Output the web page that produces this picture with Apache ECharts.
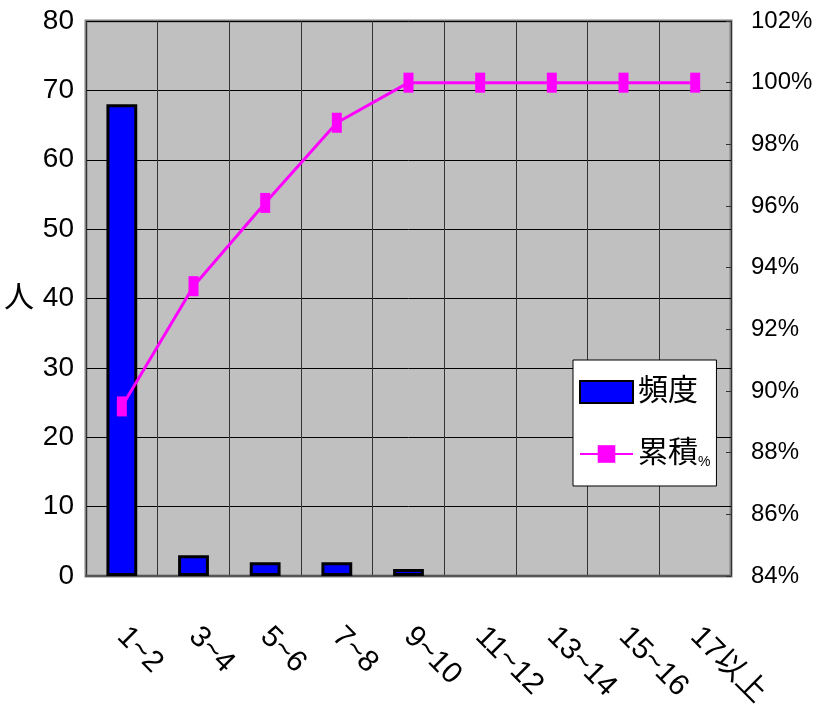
<!DOCTYPE html>
<html>
<head>
    <meta charset="UTF-8">
    <title>頻度 / 累積%</title>
    <script src="https://cdn.jsdelivr.net/npm/echarts@6/dist/echarts.min.js"></script>
    <style>
        html, body { margin: 0; padding: 0; background: #fff; }
        #chart { width: 815px; height: 721px; }
    </style>
</head>
<body>
<div id="chart"></div>
<script>
    // data
    var categories = ['1~2', '3~4', '5~6', '7~8', '9~10', '11~12', '13~14', '15~16', '17以上'];
    var freq = [68, 3, 2, 2, 1, 0, 0, 0, 0];
    var cumPct = [89.5, 93.4, 96.1, 98.7, 100, 100, 100, 100, 100];

    var font = "'Liberation Sans', Arial, 'Noto Sans CJK JP', sans-serif";

    var myChart = echarts.init(document.getElementById('chart'));
    myChart.setOption({
        animation: false,
        textStyle: { fontFamily: font },
        grid: {
            left: 86,
            right: 84,
            top: 21,
            bottom: 145,
            outerBoundsMode: 'none',
            containLabel: false,
            show: true,
            backgroundColor: '#c0c0c0',
            borderColor: '#808080',
            borderWidth: 3
        },
        legend: {
            orient: 'vertical',
            left: 573,
            top: 360,
            backgroundColor: '#fff',
            borderColor: '#000',
            borderWidth: 1,
            borderRadius: 0,
            padding: [17, 6, 17, 6],
            itemWidth: 53,
            itemHeight: 22,
            itemGap: 32,
            textStyle: {
                fontSize: 30,
                color: '#000',
                fontFamily: font,
                rich: { p: { fontSize: 14, color: '#000', fontFamily: font, verticalAlign: 'bottom' } }
            },
            // the % is squeezed small in the original legend
            formatter: function (name) {
                return name === '累積%' ? '累積{p|%}' : name;
            },
            data: [{ name: '頻度', icon: 'rect' }, '累積%']
        },
        xAxis: {
            type: 'category',
            data: categories,
            boundaryGap: true,
            axisLine: { lineStyle: { color: '#555', width: 2 } },
            axisTick: { show: false },
            splitLine: { show: true, lineStyle: { color: '#333', width: 1 } },
            axisLabel: {
                rotate: -45,
                margin: 56,
                interval: 0,
                fontSize: 30,
                color: '#000',
                fontFamily: font
            }
        },
        yAxis: [
            {
                type: 'value',
                name: '人',
                nameLocation: 'middle',
                nameRotate: 0,
                nameGap: 52,
                nameTextStyle: { fontSize: 30, color: '#000', fontFamily: font },
                min: 0,
                max: 80,
                interval: 10,
                axisLine: { show: false },
                axisTick: { show: false },
                splitLine: { show: true, lineStyle: { color: '#000', width: 1 } },
                axisLabel: { fontSize: 28, color: '#000', margin: 12, fontFamily: font }
            },
            {
                type: 'value',
                min: 84,
                max: 102,
                interval: 2,
                position: 'right',
                axisLine: { show: false },
                axisTick: { show: true, inside: true, length: 5, lineStyle: { color: '#333' } },
                splitLine: { show: false },
                axisLabel: { fontSize: 24, color: '#000', margin: 20, formatter: '{value}%', fontFamily: font }
            }
        ],
        series: [
            {
                name: '頻度',
                type: 'bar',
                yAxisIndex: 0,
                barWidth: '43%',
                itemStyle: { color: '#0000ff', borderColor: '#000', borderWidth: 3 },
                // empty classes draw nothing in the original
                data: freq.map(function (v) { return v === 0 ? '-' : v; })
            },
            {
                name: '累積%',
                type: 'line',
                yAxisIndex: 1,
                symbol: 'rect',
                symbolSize: [10, 20],
                lineStyle: { color: '#ff00ff', width: 3 },
                itemStyle: { color: '#ff00ff' },
                data: cumPct
            }
        ]
    });
</script>
</body>
</html>
